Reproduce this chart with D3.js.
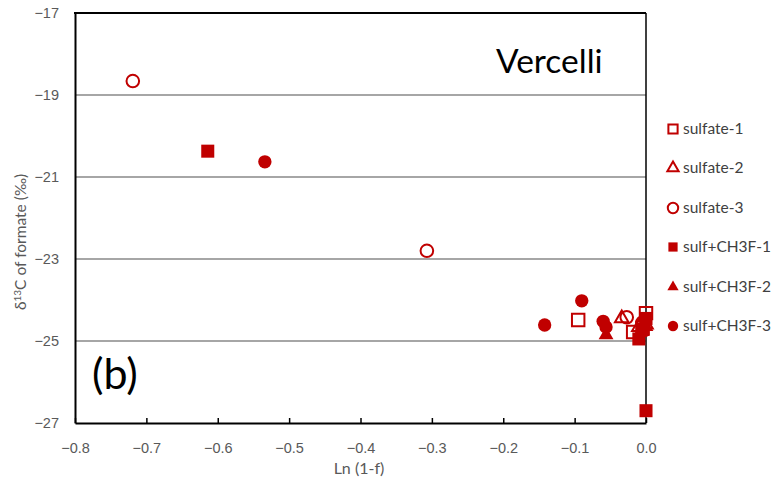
<!DOCTYPE html>
<html>
<head>
<meta charset="utf-8">
<script src="https://cdn.jsdelivr.net/npm/d3@7"></script>
<style>
  html, body { margin: 0; padding: 0; background: #fff; }
  svg { display: block; font-family: Lato, "Open Sans", sans-serif; }
</style>
</head>
<body>
<svg id="chart" width="779" height="489"></svg>
<script>
// Series: [Ln(1-f), δ13C of formate]
const sulfate1 = [[-0.095, -24.49], [-0.018, -24.78], [-0.005, -24.68], [0.0, -24.32]];
const sulfate2 = [[-0.034, -24.45], [-0.010, -24.66], [0.0, -24.60]];
const sulfate3 = [[-0.719, -18.66], [-0.307, -22.80], [-0.027, -24.42], [-0.005, -24.55]];
const sulfCH3F1 = [[-0.614, -20.37], [-0.010, -24.95], [-0.004, -24.72], [0.0, -24.45], [0.0, -26.70]];
const sulfCH3F2 = [[-0.056, -24.85], [-0.008, -24.80], [0.0, -24.65]];
const sulfCH3F3 = [[-0.534, -20.63], [-0.142, -24.61], [-0.090, -24.02], [-0.060, -24.52], [-0.056, -24.66]];

const seriesNames = ["sulfate-1", "sulfate-2", "sulfate-3", "sulf+CH3F-1", "sulf+CH3F-2", "sulf+CH3F-3"];
const xTicks = [-0.8, -0.7, -0.6, -0.5, -0.4, -0.3, -0.2, -0.1, 0.0];
const yTicks = [-17, -19, -21, -23, -25, -27];

const red = "#C00000";
const series = [
  { name: seriesNames[0], data: sulfate1, shape: d3.symbolSquare, open: true },
  { name: seriesNames[1], data: sulfate2, shape: d3.symbolTriangle, open: true },
  { name: seriesNames[2], data: sulfate3, shape: d3.symbolCircle, open: true },
  { name: seriesNames[3], data: sulfCH3F1, shape: d3.symbolSquare, open: false },
  { name: seriesNames[4], data: sulfCH3F2, shape: d3.symbolTriangle, open: false },
  { name: seriesNames[5], data: sulfCH3F3, shape: d3.symbolCircle, open: false }
];

const svg = d3.select("#chart");
const plotL = 75, plotR = 646, plotT = 13, plotB = 423;

const x = d3.scaleLinear().domain([-0.8, 0.0]).range([plotL, plotR]);
const y = d3.scaleLinear().domain([-27, -17]).range([plotB, plotT]);

// horizontal gridlines
svg.append("g").selectAll("line")
  .data(yTicks.filter(v => v !== -17 && v !== -27))
  .join("line")
  .attr("x1", plotL).attr("x2", plotR)
  .attr("y1", d => y(d)).attr("y2", d => y(d))
  .attr("stroke", "#a6a6a6").attr("stroke-width", 2);

// x axis with inward ticks
const xAxis = svg.append("g")
  .attr("transform", `translate(0,${plotB})`)
  .call(d3.axisBottom(x).tickValues(xTicks).tickSize(-5).tickSizeOuter(0).tickFormat(d3.format(".1f")));
xAxis.select(".domain").attr("stroke", "#000").attr("stroke-width", 2);
xAxis.selectAll(".tick line").attr("stroke", "#000").attr("stroke-width", 1.5);
xAxis.selectAll(".tick text")
  .attr("y", 20).attr("dy", "0.71em")
  .attr("fill", "#595959").attr("font-size", 14.5);

// y axis labels, no tick marks
const yAxis = svg.append("g")
  .attr("transform", `translate(${plotL},0)`)
  .call(d3.axisLeft(y).tickValues(yTicks).tickSize(0).tickFormat(d3.format("d")));
yAxis.select(".domain").attr("stroke", "#000").attr("stroke-width", 2);
yAxis.selectAll(".tick text")
  .attr("x", -16)
  .attr("fill", "#595959").attr("font-size", 14.5);

// top and right frame lines
svg.append("line").attr("x1", plotL - 1).attr("x2", plotR).attr("y1", plotT).attr("y2", plotT)
  .attr("stroke", "#000").attr("stroke-width", 2);
svg.append("line").attr("x1", plotR).attr("x2", plotR).attr("y1", plotT).attr("y2", plotB)
  .attr("stroke", "#000").attr("stroke-width", 1.5);

// axis titles
svg.append("text")
  .attr("x", 359).attr("y", 474)
  .attr("text-anchor", "middle")
  .attr("fill", "#595959").attr("font-size", 16)
  .text("Ln (1-f)");

const yt = svg.append("text")
  .attr("transform", "translate(26,242) rotate(-90)")
  .attr("text-anchor", "middle")
  .attr("fill", "#595959").attr("font-size", 15.5);
yt.append("tspan").text("δ");
yt.append("tspan").attr("font-size", 10).attr("dy", -5).text("13");
yt.append("tspan").attr("dy", 5).text("C of formate (‰)");

// panel labels
svg.append("text").attr("x", 496).attr("y", 73)
  .attr("font-size", 33.5).attr("fill", "#000").text("Vercelli");
svg.append("text").attr("x", 92).attr("y", 389)
  .attr("font-size", 43).attr("fill", "#000").text("(b)");

// markers
const sizeOf = s => s === d3.symbolSquare ? 170 : s === d3.symbolCircle ? 140 : 95;
const symbolFor = (s, size) => d3.symbol().type(s).size(size)();

series.forEach(s => {
  svg.append("g").selectAll("path")
    .data(s.data)
    .join("path")
    .attr("transform", d => `translate(${x(d[0])},${y(d[1])})`)
    .attr("d", symbolFor(s.shape, s.open ? sizeOf(s.shape) - 15 : sizeOf(s.shape)))
    .attr("fill", s.open ? "none" : red)
    .attr("stroke", s.open ? red : "none")
    .attr("stroke-width", 2);
});

// legend
const legendY = [129, 168, 208, 247, 287, 326];
const lg = svg.append("g");
series.forEach((s, i) => {
  const g = lg.append("g").attr("transform", `translate(673,${legendY[i]})`);
  g.append("path")
    .attr("d", symbolFor(s.shape, s.shape === d3.symbolTriangle ? 55 : 85))
    .attr("fill", s.open ? "none" : red)
    .attr("stroke", s.open ? red : "none")
    .attr("stroke-width", 2);
  g.append("text")
    .attr("x", 10).attr("dy", "0.35em")
    .attr("font-size", 15.5).attr("fill", "#404040")
    .text(s.name);
});
</script>
</body>
</html>
